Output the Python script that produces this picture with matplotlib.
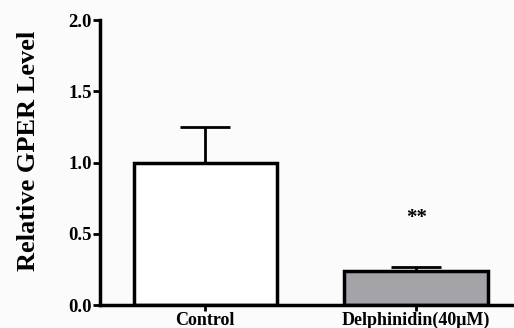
import matplotlib.pyplot as plt

# data
groups = ["Control", "Delphinidin(40μM)"]
means = [1.0, 0.24]
errors = [0.25, 0.03]
bar_colors = ["white", "#a3a3a8"]
stars = ["", "**"]

plt.rcParams['font.family'] = ['Liberation Serif', 'DejaVu Serif']
plt.rcParams['font.weight'] = 'bold'

fig = plt.figure(figsize=(5.14, 3.28), dpi=100, facecolor="#fbfbfb")
ax = fig.add_axes([0.195, 0.070, 0.805, 0.869], facecolor="#fbfbfb")

x = list(range(len(groups)))
ax.bar(x, means, width=0.68, color=bar_colors, edgecolor="black", linewidth=2.5, zorder=2)
ax.errorbar(x, means, yerr=[[0, 0], errors], fmt="none", ecolor="black",
            elinewidth=2, capsize=18, capthick=2, zorder=1)

for xi, m, e, s in zip(x, means, errors, stars):
    if s:
        ax.text(xi, m + e + 0.34, s, ha="center", va="center", fontsize=15)

ax.set_xlim(-0.498, 1.464)
ax.set_ylim(0, 2.0)
ax.set_yticks([0, 0.5, 1.0, 1.5, 2.0])
ax.set_yticklabels([f"{v:.1f}" for v in [0, 0.5, 1.0, 1.5, 2.0]], fontsize=13.5, fontweight="bold")
ax.set_xticks(x)
ax.set_xticklabels(groups, fontsize=13, fontweight="bold")
ax.set_ylabel("Relative GPER Level", fontsize=19, fontweight="bold")
ax.yaxis.set_label_coords(-0.145, 0.54)

for side in ["top", "right"]:
    ax.spines[side].set_visible(False)
for side in ["left", "bottom"]:
    ax.spines[side].set_linewidth(2.5)
ax.tick_params(axis="y", length=5, width=2, pad=1)
ax.tick_params(axis="x", length=4, width=2, pad=1)

fig.savefig("out.png", dpi=100, facecolor=fig.get_facecolor())
